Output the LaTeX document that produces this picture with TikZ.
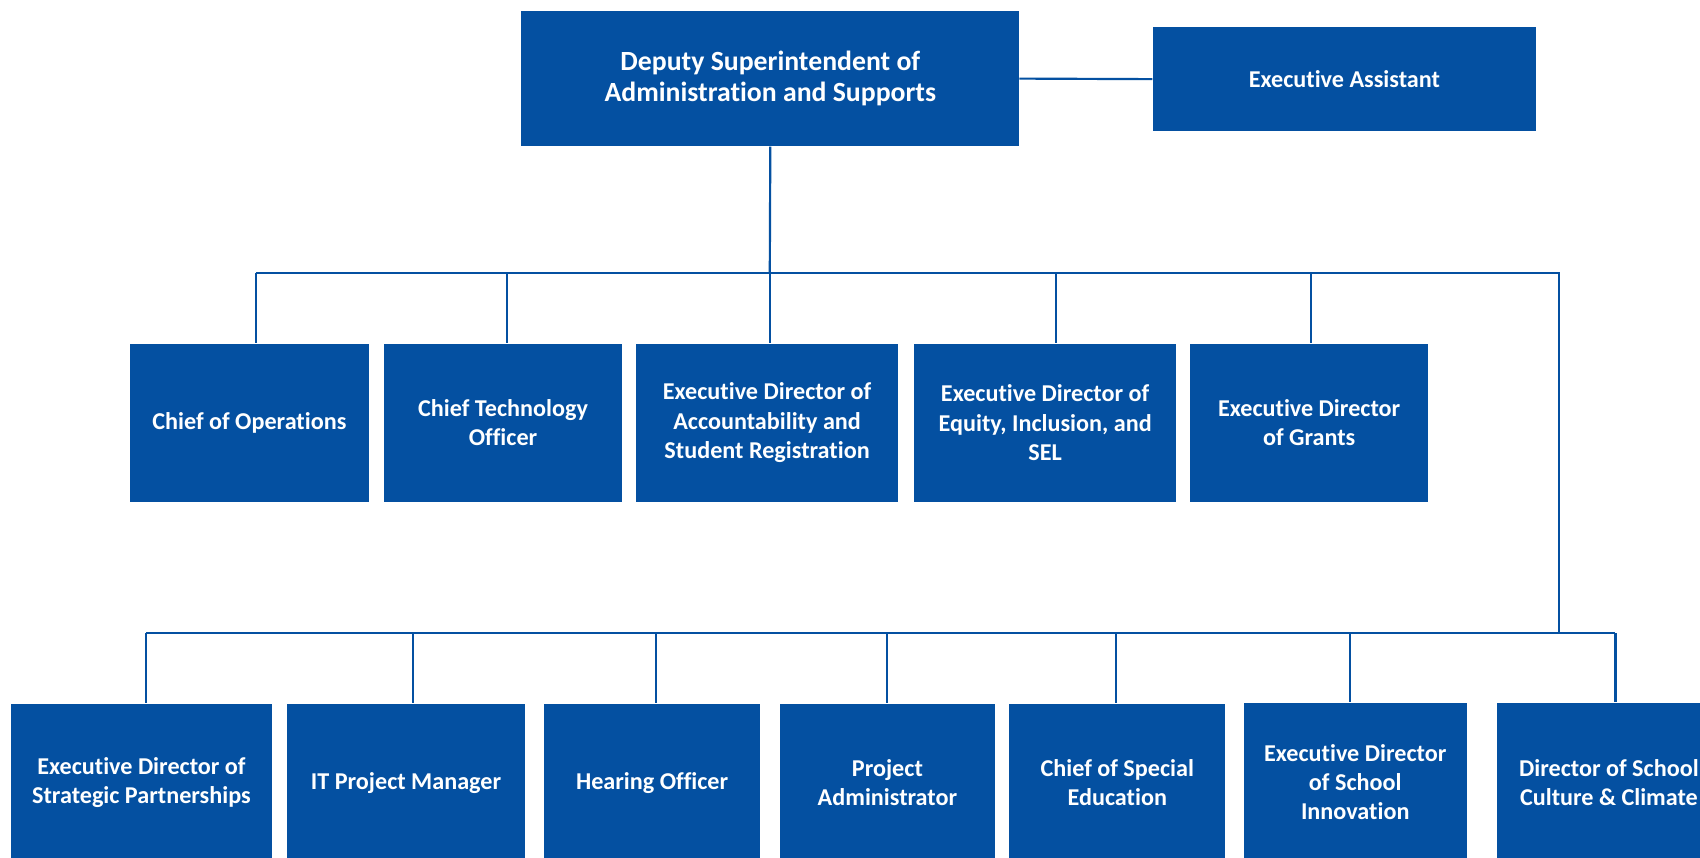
\documentclass[tikz,border=0pt]{standalone}
\usepackage{fontspec}
\setmainfont[Ligatures=NoCommon]{Carlito}
\definecolor{orgblue}{RGB}{4,80,161}
\tikzset{
  box/.style={fill=orgblue, draw=none, text=white, align=center, inner sep=0pt,
    font=\bfseries\fontsize{22.3}{27}\selectfont},
  topbox/.style={box, font=\bfseries\fontsize{25.6}{29}\selectfont},
  link/.style={draw=orgblue, line width=2pt}
}
\begin{document}
\begin{tikzpicture}[x=1pt,y=-1pt]
\useasboundingbox (0,0) rectangle (1568,791);
\clip (0,0) rectangle (1568,791);
\fill[white] (0,0) rectangle (1568,791);
% top
\node[topbox, minimum width=459pt, minimum height=125pt] (top) at (710.5,72.5) {Deputy Superintendent of\\Administration and Supports};
\node[box, minimum width=354pt, minimum height=96pt] (ea) at (1240,73) {Executive Assistant};
% middle row
\node[box, minimum width=220pt, minimum height=146pt] (coo) at (230,390) {Chief of Operations};
\node[box, minimum width=220pt, minimum height=146pt] (cto) at (464,390) {Chief Technology\\Officer};
\node[box, minimum width=241pt, minimum height=146pt] (eda) at (707.5,390) {Executive Director of\\Accountability and\\Student Registration};
\node[box, minimum width=242pt, minimum height=146pt] (ede) at (964,390) {Executive Director of\\Equity, Inclusion, and\\SEL};
\node[box, minimum width=219pt, minimum height=146pt] (edg) at (1207.5,390) {Executive Director\\of Grants};
% bottom row
\node[box, minimum width=241pt, minimum height=146pt] (sp) at (130.5,722) {Executive Director of\\Strategic Partnerships};
\node[box, minimum width=219pt, minimum height=146pt] (itpm) at (374.5,722) {IT Project Manager};
\node[box, minimum width=199pt, minimum height=146pt] (ho) at (601.5,722) {Hearing Officer};
\node[box, minimum width=199pt, minimum height=146pt] (pa) at (818.5,722) {Project\\Administrator};
\node[box, minimum width=199pt, minimum height=146pt] (cse) at (1030.5,722) {Chief of Special\\Education};
\node[box, minimum width=206pt, minimum height=147pt] (edsi) at (1250,721.5) {Executive Director\\of School\\Innovation};
\node[box, minimum width=206pt, minimum height=147pt] (dsc) at (1484,721.5) {Director of School\\Culture \& Climate};
% bus coordinates
\coordinate (bA) at (710,252);
\coordinate (bL) at (236,252);
\coordinate (bR) at (1438,252);
\coordinate (m1) at (236,252);
\coordinate (m2) at (468,252);
\coordinate (m3) at (710,252);
\coordinate (m4) at (974,252);
\coordinate (m5) at (1209,252);
\coordinate (cB) at (1438,584);
\coordinate (cL) at (135,584);
\coordinate (cR) at (1490,584);
\coordinate (n1) at (135,584);
\coordinate (n2) at (381,584);
\coordinate (n3) at (605,584);
\coordinate (n4) at (818,584);
\coordinate (n5) at (1029,584);
\coordinate (n6) at (1245,584);
\coordinate (n7) at (1490,584);
% connectors
\draw[link] (top.east) -- (ea.west);
\draw[link] (top.south) -- (bA);
\draw[link] (bL) -- (bR) -- (cB);
\draw[link] (cL) -- (cR);
\draw[link] (m1) -- (m1 |- coo.north);
\draw[link] (m2) -- (m2 |- cto.north);
\draw[link] (m3) -- (m3 |- eda.north);
\draw[link] (m4) -- (m4 |- ede.north);
\draw[link] (m5) -- (m5 |- edg.north);
\draw[link] (n1) -- (n1 |- sp.north);
\draw[link] (n2) -- (n2 |- itpm.north);
\draw[link] (n3) -- (n3 |- ho.north);
\draw[link] (n4) -- (n4 |- pa.north);
\draw[link] (n5) -- (n5 |- cse.north);
\draw[link] (n6) -- (n6 |- edsi.north);
\draw[link] (n7) -- (n7 |- dsc.north);
\end{tikzpicture}
\end{document}
